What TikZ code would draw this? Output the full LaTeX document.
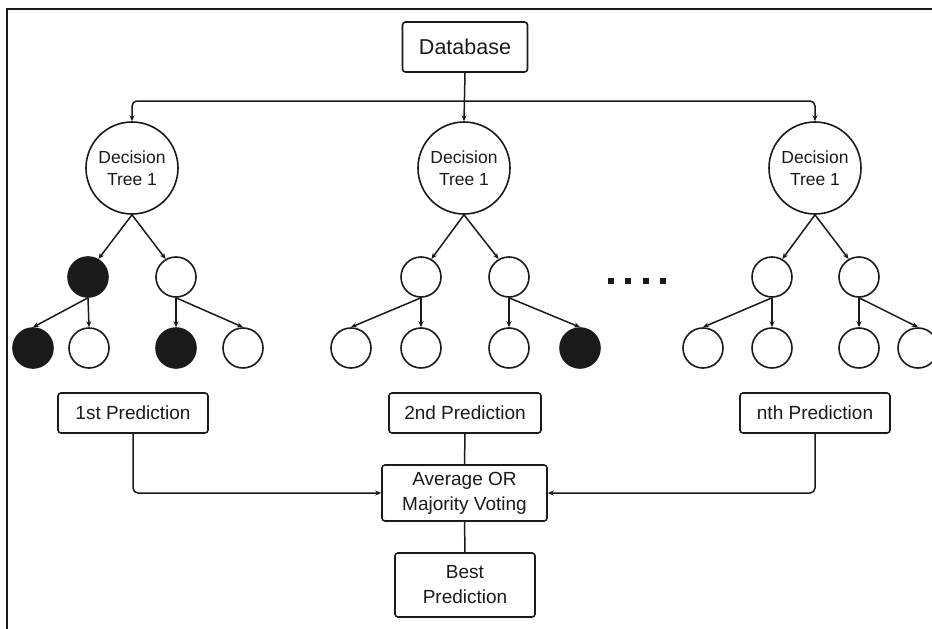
\documentclass[tikz,border=0pt]{standalone}
\usepackage{fontspec}
\setmainfont{Liberation Sans}
\usetikzlibrary{arrows.meta,calc}
\definecolor{ink}{HTML}{1A1A1A}
\begin{document}
\begin{tikzpicture}[x=1pt,y=-1pt,
  box/.style={draw=ink,line width=1.6pt,rectangle,rounded corners=3pt,inner sep=0pt,align=center,text=ink,
    font=\fontsize{19}{25}\selectfont},
  tree/.style={draw=ink,line width=1.6pt,circle,minimum size=92pt,inner sep=0pt,align=center,text=ink,
    font=\fontsize{17.5}{22}\selectfont},
  leaf/.style={draw=ink,line width=1.6pt,circle,minimum size=40pt,inner sep=0pt},
  hit/.style={leaf,fill=ink},
  arr/.style={-{Stealth[length=6pt,width=5pt]}},
  link/.style={draw=ink,line width=1.5pt}]
\useasboundingbox (0,0) rectangle (932,629);
% frame
\draw[ink,line width=2pt] (7,629) -- (7,9) -- (932,9);

% source
\node[box,minimum width=125pt,minimum height=50pt,font=\fontsize{21.5}{26}\selectfont] (db) at (465,47) {Database};

% decision trees
\node[tree] (t1) at (132,168) {Decision\\Tree 1};
\node[tree] (t2) at (464,168) {Decision\\Tree 1};
\node[tree] (t3) at (815,168) {Decision\\Tree 1};

% second level
\node[hit]  (a1) at (88,277) {};
\node[leaf] (a2) at (176,277) {};
\node[leaf] (b1) at (421,277) {};
\node[leaf] (b2) at (509,277) {};
\node[leaf] (c1) at (772,277) {};
\node[leaf] (c2) at (859,277) {};

% third level
\node[hit]  (a11) at (33,348) {};
\node[leaf] (a12) at (89,348) {};
\node[hit]  (a21) at (176,348) {};
\node[leaf] (a22) at (243,348) {};
\node[leaf] (b11) at (351,348) {};
\node[leaf] (b12) at (421,348) {};
\node[leaf] (b21) at (509,348) {};
\node[hit]  (b22) at (580,348) {};
\node[leaf] (c11) at (703,348) {};
\node[leaf] (c12) at (772,348) {};
\node[leaf] (c21) at (859,348) {};
\node[leaf] (c22) at (918,348) {};

% ellipsis
\foreach \xx in {611,628,646,663}
  \fill[ink] (\xx-3,278) rectangle (\xx+3,284);

% predictions
\node[box,minimum width=150pt,minimum height=40pt] (p1) at (133,413) {1st Prediction};
\node[box,minimum width=152pt,minimum height=40pt] (p2) at (465,413) {2nd Prediction};
\node[box,minimum width=150pt,minimum height=40pt] (p3) at (815,413) {nth Prediction};

% aggregation
\node[box,minimum width=165pt,minimum height=56pt] (avg) at (464.5,493) {Average OR\\Majority Voting};
\node[box,minimum width=140pt,minimum height=64pt] (best) at (465,585) {Best\\Prediction};

% database to trees
\coordinate (bus) at (464,101);
\draw[link,arr] (db.south) -- (t2.north);
\draw[link,arr,rounded corners=5pt] (bus) -| (t1.north);
\draw[link,arr,rounded corners=5pt] (bus) -| (t3.north);

% tree edges
\foreach \p/\l/\r in {t1/a1/a2,t2/b1/b2,t3/c1/c2}{
  \draw[link,arr] (\p.south) -- (\l.60);
  \draw[link,arr] (\p.south) -- (\r.120);
}
\foreach \p/\l/\r in {a1/a11/a12,a2/a21/a22,b1/b11/b12,b2/b21/b22,c1/c11/c12,c2/c21/c22}{
  \draw[link,arr] (\p.south) -- (\l.north);
  \draw[link,arr] (\p.south) -- (\r.north);
}

% predictions to voting
\draw[link,arr,rounded corners=5pt] (p1.south) |- (avg.west);
\draw[link,arr,rounded corners=5pt] (p3.south) |- (avg.east);
\draw[link] (p2.south) -- (avg.north);
\draw[link] (avg.south) -- (best.north);
\end{tikzpicture}
\end{document}
